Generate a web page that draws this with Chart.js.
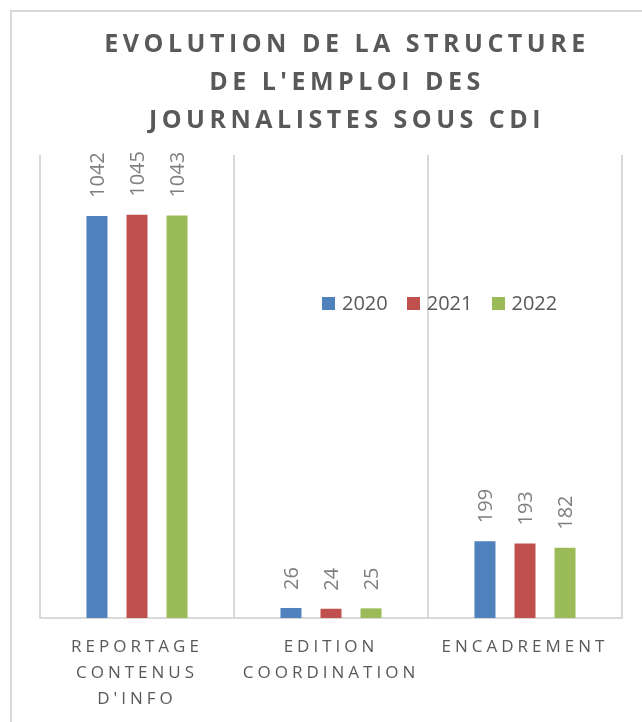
<!DOCTYPE html>
<html>
<head>
<meta charset="utf-8">
<script src="https://cdn.jsdelivr.net/npm/chart.js@4/dist/chart.umd.min.js"></script>
<style>
    html, body { margin: 0; padding: 0; background: #fff; overflow: hidden; }
    #frame {
        position: absolute; left: 10px; top: 10px;
        width: 700px; height: 760px;
        border: 2px solid #d9d9d9;
    }
    #wrap { position: absolute; left: 0; top: 0; width: 642px; height: 722px; }
    #emploiChart { position: absolute; left: 0; top: 0; }
    #legend {
        position: absolute; left: 322px; top: 293px;
        display: flex; align-items: center;
        font-family: "Open Sans", sans-serif; font-size: 20px; line-height: 20px; color: #595959;
    }
    #legend .item { display: flex; align-items: center; margin-right: 19px; }
    #legend .box { width: 13px; height: 13px; margin-right: 7px; }
</style>
</head>
<body>
<div id="frame"></div>
<div id="wrap">
    <canvas id="emploiChart" width="642" height="722"></canvas>
    <div id="legend"></div>
</div>
<script>
const categories = [
    ['REPORTAGE', 'CONTENUS', "D'INFO"],
    ['EDITION', 'COORDINATION'],
    ['ENCADREMENT'],
];
const years = ['2020', '2021', '2022'];
const values2020 = [1042, 26, 199];
const values2021 = [1045, 24, 193];
const values2022 = [1043, 25, 182];
const colors = ['#4f81bd', '#c0504d', '#9bbb59'];

const titleLines = ['EVOLUTION DE LA STRUCTURE', "DE L'EMPLOI DES", 'JOURNALISTES SOUS CDI'];

// values written vertically above each bar
const barValues = {
    id: 'barValues',
    afterDatasetsDraw(chart) {
        const ctx = chart.ctx;
        ctx.save();
        ctx.font = '20px "Open Sans"';
        ctx.fillStyle = '#7f7f7f';
        ctx.textAlign = 'left';
        ctx.textBaseline = 'middle';
        chart.data.datasets.forEach((ds, i) => {
            chart.getDatasetMeta(i).data.forEach((bar, j) => {
                ctx.save();
                ctx.translate(bar.x + 1, bar.y - 18);
                ctx.rotate(-Math.PI / 2);
                ctx.fillText(String(ds.data[j]), 0, 0);
                ctx.restore();
            });
        });
        ctx.restore();
    },
};

// spaced lettering for the title and the category labels
const spacedText = {
    id: 'spacedText',
    afterLayout(chart) {
        const ctx = chart.ctx;
        const title = chart.titleBlock;
        if (title && !title._spaced) {
            const draw = title.draw;
            title.draw = function () {
                ctx.save();
                ctx.letterSpacing = '4.5px';
                ctx.translate(16, 0);
                draw.apply(this, arguments);
                ctx.restore();
            };
            title._spaced = true;
        }
        const x = chart.scales.x;
        if (x && !x._spaced) {
            const drawLabels = x.drawLabels;
            x.drawLabels = function () {
                ctx.save();
                ctx.letterSpacing = '4px';
                drawLabels.apply(this, arguments);
                ctx.restore();
            };
            x._spaced = true;
        }
    },
};

const seriesValues = [values2020, values2021, values2022];

const datasets = years.map((year, i) => ({
    label: year,
    data: seriesValues[i],
    backgroundColor: colors[i],
    borderWidth: 0,
    categoryPercentage: 0.619,
    barPercentage: 0.525,
}));

new Chart(document.getElementById('emploiChart'), {
    type: 'bar',
    data: { labels: categories, datasets: datasets },
    plugins: [barValues, spacedText],
    options: {
        responsive: false,
        animation: false,
        layout: { padding: { left: 40, right: 20, top: 0, bottom: 0 } },
        plugins: {
            legend: { display: false },
            tooltip: { enabled: false },
            title: {
                display: true,
                text: titleLines,
                color: '#595959',
                font: { family: '"Open Sans"', size: 25, weight: 'bold', lineHeight: '38px' },
                padding: { top: 26, bottom: 15 },
            },
        },
        scales: {
            x: {
                grid: { color: '#d9d9d9', lineWidth: 2, drawTicks: false },
                border: { color: '#d9d9d9', width: 2 },
                ticks: {
                    color: '#595959',
                    font: { family: '"Open Sans"', size: 17, lineHeight: '26px' },
                    padding: 16,
                    maxRotation: 0,
                    autoSkip: false,
                },
                afterFit(scale) { scale.height = 104; },
            },
            y: {
                display: false,
                min: 0,
                max: 1200,
            },
        },
    },
});

// legend
const legend = document.getElementById('legend');
years.forEach((year, i) => {
    const item = document.createElement('div');
    item.className = 'item';
    const box = document.createElement('span');
    box.className = 'box';
    box.style.background = colors[i];
    const text = document.createElement('span');
    text.textContent = year;
    item.appendChild(box);
    item.appendChild(text);
    legend.appendChild(item);
});
</script>
</body>
</html>
